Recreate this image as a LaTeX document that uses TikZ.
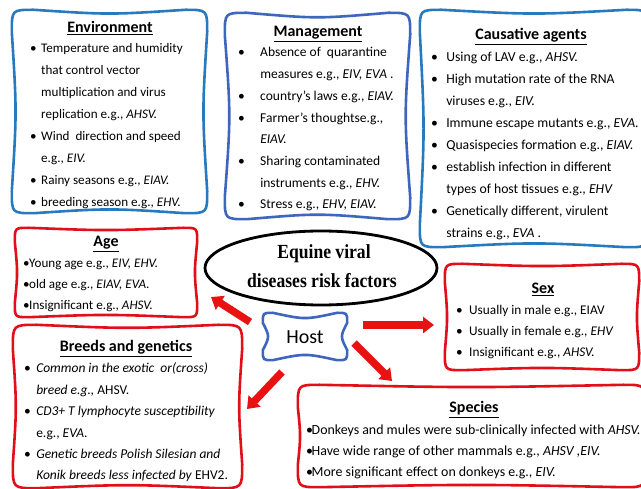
\documentclass[tikz,border=0pt]{standalone}
\usepackage{fontspec}
\setmainfont{Carlito}
\newfontfamily\titleserif[FakeStretch=0.88]{Liberation Serif}
\usetikzlibrary{calc,fit,arrows.meta,shapes.geometric}
\definecolor{envblue}{RGB}{40,122,192}
\definecolor{mgblue}{RGB}{62,102,188}
\definecolor{boxred}{RGB}{225,15,25}
\definecolor{arrred}{RGB}{232,18,18}
\newcommand\bu[1][11pt]{\makebox[#1][l]{•}}
\newcommand\blc[1][11pt]{\hspace*{#1}}
\newcommand\bodytext[3]{\parbox[t]{340pt}{\fontsize{#1}{#2}\selectfont\raggedright #3}}
\newcommand\mkbox[5]{%
  \path (#2,#3) coordinate (#1-a) (#4,#5) coordinate (#1-b);
  \node[fit=(#1-a)(#1-b), inner sep=0pt] (#1) {};}
\newcommand\wbox[4]{%
  \draw[#2] ($(#1.north west)+(#3,0)$) .. controls ($(#1.north)+(0,#4)$) .. ($(#1.north east)+(-#3,0)$)
   .. controls (#1.north east) .. ($(#1.north east)+(0,#3)$)
   .. controls ($(#1.east)+(-#4,0)$) .. ($(#1.south east)+(0,-#3)$)
   .. controls (#1.south east) .. ($(#1.south east)+(-#3,0)$)
   .. controls ($(#1.south)+(0,-#4)$) .. ($(#1.south west)+(#3,0)$)
   .. controls (#1.south west) .. ($(#1.south west)+(0,-#3)$)
   .. controls ($(#1.west)+(#4,0)$) .. ($(#1.north west)+(0,#3)$)
   .. controls (#1.north west) .. cycle;}
\begin{document}
\begin{tikzpicture}[x=1pt,y=-1pt,
  bluebox/.style={draw=envblue, line width=2.6pt},
  mgbox/.style={draw=mgblue, line width=2.6pt},
  redbox/.style={draw=boxred, line width=2.6pt},
  ttl/.style={anchor=base, inner sep=0pt, font=\fontsize{16}{18}\selectfont\bfseries},
  body/.style={anchor=base west, inner sep=0pt},
  bigarrow/.style={arrred, line width=7.5pt, -{Triangle[length=11pt,width=16pt]}}]
\useasboundingbox (0,0) rectangle (641,489);
\fill[white] (0,0) rectangle (641,489);

% boxes
\mkbox{env}{12}{10}{207}{213}
\mkbox{mgmt}{225}{13}{410}{219}
\mkbox{caus}{420}{10}{648}{247}
\mkbox{age}{15}{228}{197}{317}
\mkbox{breeds}{13}{325}{242}{488}
\mkbox{host}{263}{313}{347}{360}
\mkbox{sex}{445}{264}{639}{370}
\mkbox{species}{298}{385}{645}{487}
\wbox{env}{bluebox}{22}{5}
\wbox{mgmt}{mgbox}{22}{6}
\wbox{caus}{bluebox}{22}{5}
\wbox{age}{redbox}{14}{3}
\wbox{breeds}{redbox}{24}{4}
\wbox{host}{mgbox}{10}{7}
\wbox{sex}{redbox}{18}{3}
\wbox{species}{redbox}{22}{3}

% central ellipse
\node[draw=black, line width=2.8pt, ellipse, minimum width=232pt, minimum height=74pt, inner sep=0pt] (core) at (321,268) {};
\node[anchor=base, inner sep=0pt, font=\titleserif\bfseries\fontsize{20}{24}\selectfont] (core-t1) at (324,259) {Equine viral};
\node[anchor=base, inner sep=0pt, font=\titleserif\bfseries\fontsize{20}{24}\selectfont] (core-t2) at (322,288) {diseases risk factors};

% Host
\node[anchor=base, inner sep=0pt, font=\fontsize{20}{24}\selectfont] (host-t) at (305,344) {Host};

% Environment
\node[ttl] (env-t) at (110,33) {\underline{Environment}};
\node[body] (env-b) at (30,53) {\bodytext{13.1}{21.9}{%
\bu Temperature and humidity\\
\blc that control vector\\
\blc multiplication and virus\\
\blc replication e.g., \textit{AHSV.}\\
\bu Wind\ \ direction and speed\\
\blc e.g., \textit{EIV.}\\
\bu Rainy seasons e.g., \textit{EIAV.}\\
\bu breeding season e.g., \textit{EHV.}}};

% Management
\node[ttl] (mgmt-t) at (318,37) {\underline{Management}};
\node[body] (mgmt-b) at (238,57) {\bodytext{13.5}{21.7}{%
\bu[19pt] Absence of\ \ quarantine\\
\blc[19pt] measures e.g., \textit{EIV, EVA} .\\
\bu[19pt] country’s laws e.g., \textit{EIAV.}\\
\bu[19pt] Farmer’s thoughtse.g.,\\
\blc[19pt] \textit{EIAV.}\\
\bu[19pt] Sharing contaminated\\
\blc[19pt] instruments e.g., \textit{EHV.}\\
\bu[19pt] Stress e.g., \textit{EHV, EIAV.}}};

% Causative agents
\node[ttl] (caus-t) at (531,40) {\underline{Causative agents}};
\node[body] (caus-b) at (431,62) {\bodytext{13.7}{22}{%
\bu[12pt] Using of LAV e.g., \textit{AHSV.}\\
\bu[12pt] High mutation rate of the RNA\\
\blc[12pt] viruses e.g., \textit{EIV.}\\
\bu[12pt] Immune escape mutants e.g., \textit{EVA.}\\
\bu[12pt] Quasispecies formation e.g., \textit{EIAV.}\\
\bu[12pt] establish infection in different\\
\blc[12pt] types of host tissues e.g., \textit{EHV}\\
\bu[12pt] Genetically different, virulent\\
\blc[12pt] strains e.g., \textit{EVA} .}};

% Age
\node[ttl] (age-t) at (106,247) {\underline{Age}};
\node[body] (age-b) at (23,268) {\bodytext{13.1}{20.8}{%
\bu[6pt]Young age e.g., \textit{EIV, EHV.}\\
\bu[6pt]old age e.g., \textit{EIAV, EVA.}\\
\bu[6pt]Insignificant e.g., \textit{AHSV.}}};

% Breeds and genetics
\node[ttl] (breeds-t) at (126,352) {\underline{Breeds and genetics}};
\node[body] (breeds-b) at (24,373) {\bodytext{13.5}{21.4}{%
\bu[9pt] \textit{Common in the exotic\ \ or(cross)}\\
\blc[9pt] \textit{breed e.g.,} AHSV.\\
\bu[9pt] \textit{CD3+ T lymphocyte susceptibility}\\
\blc[9pt] e.g., \textit{EVA.}\\
\bu[9pt] \textit{Genetic breeds Polish Silesian and}\\
\blc[9pt] \textit{Konik breeds less infected by} EHV2.}};

% Sex
\node[ttl] (sex-t) at (543,294) {\underline{Sex}};
\node[body] (sex-b) at (456,315) {\bodytext{13.3}{21}{%
\bu[10pt] Usually in male e.g., EIAV\\
\bu[10pt] Usually in female e.g., \textit{EHV}\\
\bu[10pt] Insignificant e.g., \textit{AHSV.}}};

% Species
\node[ttl] (species-t) at (474,413) {\underline{Species}};
\node[body] (species-b) at (306,435) {\bodytext{13.9}{20.7}{%
\bu[5.5pt]Donkeys and mules were sub-clinically infected with \textit{AHSV.}\\
\bu[5.5pt]Have wide range of other mammals e.g., \textit{AHSV ,EIV.}\\
\bu[5.5pt]More significant effect on donkeys e.g., \textit{EIV.}}};

% arrows
\coordinate (ta) at (250,322); \coordinate (ha) at (211,297);
\coordinate (ts) at (363,325); \coordinate (hs) at (434,325);
\coordinate (tp) at (354,343); \coordinate (hp) at (392,381);
\coordinate (tb) at (282,372); \coordinate (hb) at (247,409);
\draw[bigarrow] (ta) -- (ha);
\draw[bigarrow] (ts) -- (hs);
\draw[bigarrow] (tp) -- (hp);
\draw[bigarrow] (tb) -- (hb);
\end{tikzpicture}
\end{document}
